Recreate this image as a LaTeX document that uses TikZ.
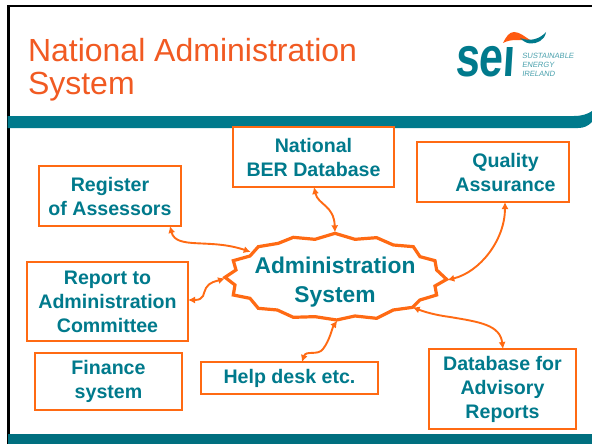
\documentclass[tikz,border=0pt]{standalone}
\usepackage{fontspec}
\setmainfont{Liberation Sans}
\newfontfamily\seifont[FakeSlant=0.08]{Liberation Sans Bold}
\newfontfamily\logofont[FakeSlant=0.15]{Liberation Sans}
\definecolor{teal1}{HTML}{007A8C}
\definecolor{teal2}{HTML}{006F7F}
\definecolor{orng}{HTML}{FF6A13}
\definecolor{ttl}{HTML}{F15A22}
\tikzset{
 bx/.style={draw=orng,line width=2.6pt,fill=white,inner sep=0pt,outer sep=0pt,align=center,text=teal1,font=\fontsize{19.6}{24}\selectfont\bfseries},
 link/.style={draw=orng,line width=1.9pt,{Latex[length=7pt,width=7pt]}-{Latex[length=7pt,width=7pt]}},
 ttlt/.style={inner sep=0pt,outer sep=0pt,anchor=base west,text=ttl,font=\fontsize{32}{33}\selectfont},
 logos/.style={inner sep=0pt,outer sep=0pt,anchor=base west,text=teal1!70!white,font=\logofont\fontsize{7.6}{8}\selectfont}
}
\usetikzlibrary{arrows.meta}
\begin{document}
\begin{tikzpicture}[x=1pt,y=-1pt]
\useasboundingbox (0,0) rectangle (592,444);
\fill[white] (0,0) rectangle (592,444);
% frame
\fill[black] (7,5) rectangle (592,7.5);
\fill[black] (7,5) rectangle (9.5,444);
% bands
\fill[teal1] (7.5,116) -- (574,116) .. controls (582,116) and (588,114) .. (592,111) -- (592,122) .. controls (588,126) and (584,128) .. (578,128) -- (7.5,128) -- cycle;
\fill[teal2] (7.5,434) rectangle (592,444);
% title
\node[ttlt] (t1) at (28,62) {National Administration};
\node[ttlt] (t2) at (28,95) {System};
% logo
\node[inner sep=0pt,outer sep=0pt,anchor=base west,text=teal1,xscale=0.77,font=\seifont\fontsize{56}{56}\selectfont] (sei) at (455,77) {sei};
\fill[white] (501,30) rectangle (522,46.8);
\fill[orng!85!red] (503,43) .. controls (506,37) and (509,32) .. (514,32) .. controls (520,32) and (525,37) .. (530,40) .. controls (522,41) and (512,38) .. cycle;
\fill[teal1] (520,38) .. controls (530,42) and (540,39) .. (546,32) .. controls (545,40) and (537,44) .. (530,43.5) .. controls (526,43) and (523,41) .. cycle;
\node[logos] (l1) at (522,59) {SUSTAINABLE};
\node[logos] (l2) at (522,68) {ENERGY};
\node[logos] (l3) at (522,77) {IRELAND};
% boxes
\node[bx,minimum width=161pt,minimum height=60pt] (ber) at (313.5,157) {National\\BER Database};
\node[bx,minimum width=152pt,minimum height=60pt] (qa) at (493,172) {\hspace*{25pt}Quality\\\hspace*{25pt}Assurance};
\node[bx,minimum width=142pt,minimum height=60pt] (reg) at (110,196) {Register\\of Assessors};
\node[bx,minimum width=161pt,minimum height=79pt] (rep) at (107.5,301.5) {Report to\\Administration\\Committee};
\node[bx,minimum width=147pt,minimum height=57pt] (fin) at (108.5,381.5) {Finance\\system};
\node[bx,minimum width=177pt,minimum height=32pt] (help) at (289.5,378) {Help desk etc.};
\node[bx,minimum width=147pt,minimum height=80pt] (db) at (502.5,389) {Database for\\Advisory\\Reports};
% burst
\begin{scope}[shift={(190,200)},x=0.3333pt,y=-0.3333pt]
\draw[orng,line width=3.2pt,line join=miter,fill=white] (435,100) -- (495,118) -- (560,113) -- (610,135) -- (670,140) -- (690,170) -- (735,182) -- (740,210) -- (770,238) -- (735,258) -- (740,285) -- (690,300) -- (668,322) -- (610,330) -- (560,355) -- (495,348) -- (440,360) -- (375,350) -- (310,352) -- (262,330) -- (205,325) -- (180,295) -- (130,285) -- (135,255) -- (105,232) -- (138,210) -- (130,182) -- (180,168) -- (205,140) -- (265,130) -- (310,112) -- (375,118) -- cycle;
\coordinate (bt) at (435,97);
\coordinate (br) at (772,240);
\coordinate (bl) at (182,156);
\coordinate (bw) at (105,235);
\coordinate (bs) at (442,362);
\coordinate (be) at (668,322);
\end{scope}
\node[inner sep=0pt,outer sep=0pt,align=center,text=teal1,font=\fontsize{22.8}{28.5}\selectfont\bfseries] (burst) at (335,282) {Administration\\System};
% connectors
\draw[link] (ber.south -| 314,187) .. controls (318,205) and (334,205) .. (bt);
\draw[link] (qa.south -| 505,202) .. controls (505,240) and (480,272) .. (br);
\draw[link] (reg.south -| 170,226) .. controls (176,250) and (210,238) .. (bl);
\draw[link] (rep.east |- 188,300) .. controls (205,300) and (203,293) .. (206,288) .. controls (209,282) and (217,281) .. (bw);
\draw[link] (help.north -| 302,362) .. controls (306,350) and (318,356) .. (323,349) .. controls (330,340) and (332,328) .. (bs);
\draw[link] (db.north -| 503,349) .. controls (500,325) and (480,322) .. (450,317) .. controls (435,315) and (425,312) .. (be);
\end{tikzpicture}
\end{document}
